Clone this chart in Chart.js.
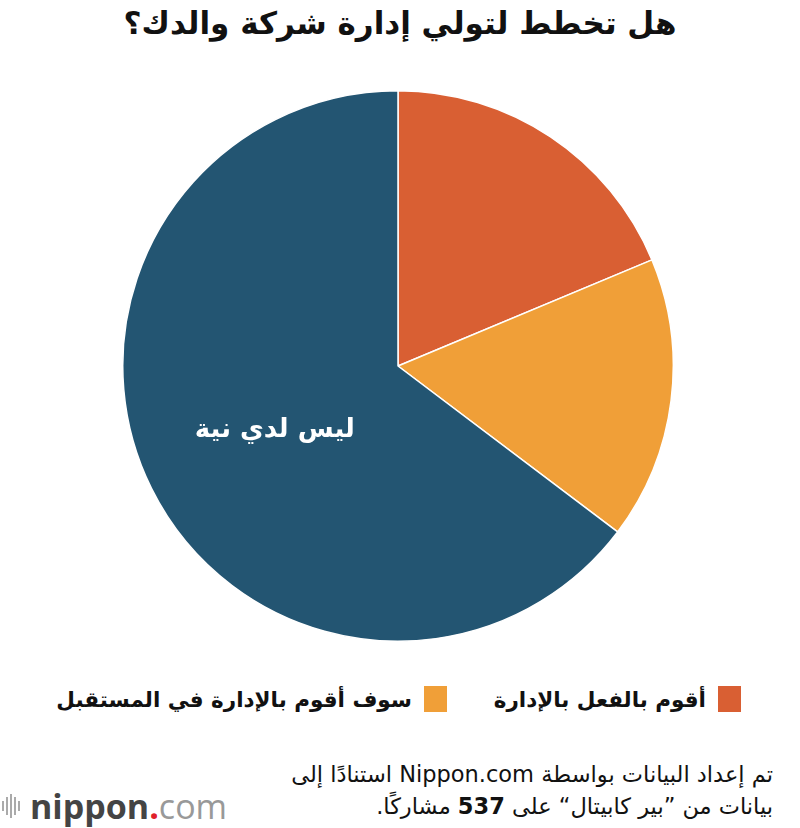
<!doctype html>
<html lang="ar">

<head>
    <meta charset="utf-8">
    <title>هل تخطط لتولي إدارة شركة والدك؟</title>
    <script src="https://cdn.jsdelivr.net/npm/chart.js"></script>
    <style>
        body { margin: 0; width: 800px; height: 828px; background: #fff; position: relative; overflow: hidden; font-family: "DejaVu Sans", sans-serif; }
        #titulo { position: absolute; top: 5px; left: 0; width: 800px; text-align: center; font-size: 31px; font-weight: bold; color: #111; direction: rtl; }
        #grafico { position: absolute; left: 122px; top: 90px; width: 552px; height: 552px; }
        .leg { position: absolute; top: 686px; direction: rtl; font-size: 21.5px; font-weight: bold; color: #111; display: flex; align-items: center; }
        .leg span.box { display: inline-block; width: 23px; height: 26px; margin-left: 12px; }
        #nota { position: absolute; right: 27px; top: 758px; direction: rtl; text-align: right; font-size: 22.5px; line-height: 32px; color: #111; }
        #logo { position: absolute; left: 2px; top: 783px; font-size: 34px; font-family: "Open Sans", sans-serif; display: flex; align-items: center; }
        #logo .bars { display: flex; align-items: center; margin-right: 8px; }
        #logo .bars i { display: inline-block; width: 2px; background: #aaa; margin-right: 2px; }
    </style>
</head>

<body>
    <div id="titulo">هل تخطط لتولي إدارة شركة والدك؟</div>
    <div id="grafico"><canvas id="pizza"></canvas></div>

    <div class="leg" style="right: 59px;"><span class="box" style="background:#D95F33"></span>أقوم بالفعل بالإدارة</div>
    <div class="leg" style="right: 353px;"><span class="box" style="background:#F09F38"></span>سوف أقوم بالإدارة في المستقبل</div>

    <div id="nota">تم إعداد البيانات بواسطة Nippon.com استنادًا إلى<br>بيانات من ”بير كابيتال“ على <b>537</b> مشاركًا.</div>

    <div id="logo">
        <span class="bars"><i style="height:10px"></i><i style="height:18px"></i><i style="height:24px"></i><i style="height:18px"></i><i style="height:10px"></i></span>
        <span style="color:#444;font-weight:bold">nippon</span><span style="color:#e0202a;font-weight:bold">.</span><span style="color:#999">com</span>
    </div>

    <script>
        var categorias = ['أقوم بالفعل بالإدارة', 'سوف أقوم بالإدارة في المستقبل', 'ليس لدي نية'];
        var valores = [18.7, 16.6, 64.7];
        var cores = ['#D95F33', '#F09F38', '#235572'];

        var rotuloInterno = {
            id: 'rotuloInterno',
            afterDatasetsDraw(chart) {
                var ctx = chart.ctx;
                var arco = chart.getDatasetMeta(0).data[2];
                var p = arco.getCenterPoint();
                ctx.save();
                ctx.fillStyle = '#fff';
                ctx.font = 'bold 26px "DejaVu Sans"';
                ctx.textAlign = 'center';
                ctx.textBaseline = 'middle';
                ctx.direction = 'rtl';
                ctx.fillText(categorias[2], p.x, p.y + 3);
                ctx.restore();
            }
        };

        var pizza = new Chart(document.getElementById('pizza').getContext('2d'), {
            type: 'pie',
            data: {
                labels: categorias,
                datasets: [{
                    data: valores,
                    backgroundColor: cores,
                    borderColor: '#fff',
                    borderWidth: 1.5
                }]
            },
            options: {
                responsive: true,
                maintainAspectRatio: false,
                animation: false,
                layout: { padding: 0 },
                plugins: {
                    legend: { display: false },
                    tooltip: { enabled: false }
                }
            },
            plugins: [rotuloInterno]
        });
    </script>
</body>

</html>
